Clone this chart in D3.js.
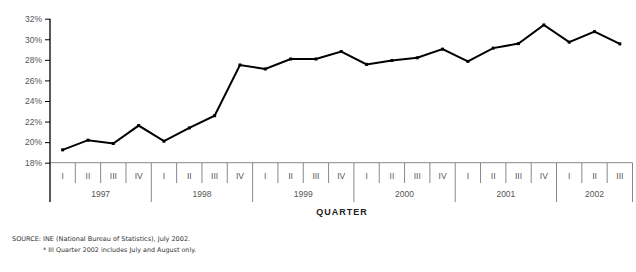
<!DOCTYPE html>
<html>
<head>
<meta charset="utf-8">
<script src="https://cdn.jsdelivr.net/npm/d3@7"></script>
<style>
  body { margin: 0; background: #fff; }
  svg { display: block; font-family: Arial, "Liberation Sans", sans-serif; opacity: 0.999; }
</style>
</head>
<body>
<svg id="chart" width="636" height="272"></svg>
<script>
// quarters from 1997 I to 2002 III
const years = ["1997", "1998", "1999", "2000", "2001", "2002"];
const quarterNames = ["I", "II", "III", "IV"];
const rates = [
    19.25, 20.19, 19.87, 21.61,
    20.09, 21.38, 22.57, 27.50,
    27.11, 28.08, 28.08, 28.81,
    27.56, 27.94, 28.20, 29.04,
    27.85, 29.14, 29.58, 31.39,
    29.72, 30.74, 29.55
];
const yTicks = [18, 20, 22, 24, 26, 28, 30, 32];

const data = rates.map(function (v, i) {
    return {
        key: i,
        year: years[Math.floor(i / 4)],
        quarter: quarterNames[i % 4],
        value: v
    };
});

const svg = d3.select("#chart");
const plotLeft = 50, plotRight = 632.5, plotTop = 18.7, plotBottom = 162.7;

const xScale = d3.scaleBand()
    .domain(data.map(function (d) { return d.key; }))
    .range([plotLeft, plotRight]);

const yScale = d3.scaleLinear()
    .domain([18, 32])
    .range([plotBottom, plotTop]);

// y axis
const yAxis = d3.axisLeft(yScale)
    .tickValues(yTicks)
    .tickSize(5)
    .tickPadding(3)
    .tickFormat(function (d) { return d + "%"; });

const yG = svg.append("g")
    .attr("transform", "translate(" + plotLeft + ",0)")
    .call(yAxis);
yG.select(".domain").remove();
yG.selectAll(".tick line").attr("stroke", "#000");
yG.selectAll(".tick text").attr("font-size", 8.5).attr("fill", "#555")
    .attr("font-family", "Arial, 'Liberation Sans', sans-serif");

// category table below plot
const cat = svg.append("g");
const rowQ = 183, rowY = 202;

cat.append("line")
    .attr("x1", plotLeft).attr("x2", plotRight)
    .attr("y1", plotBottom).attr("y2", plotBottom)
    .attr("stroke", "#888").attr("stroke-width", 1);

// quarter dividers
cat.selectAll(".qdiv")
    .data(data.filter(function (d) { return d.quarter !== "I"; }))
    .enter().append("line")
    .attr("x1", function (d) { return xScale(d.key); })
    .attr("x2", function (d) { return xScale(d.key); })
    .attr("y1", plotBottom).attr("y2", rowQ)
    .attr("stroke", "#888");

// year dividers
const yearStarts = data.filter(function (d) { return d.quarter === "I" && d.key > 0; })
    .map(function (d) { return xScale(d.key); });
yearStarts.push(plotRight);
cat.selectAll(".ydiv")
    .data(yearStarts)
    .enter().append("line")
    .attr("x1", function (d) { return d; })
    .attr("x2", function (d) { return d; })
    .attr("y1", plotBottom).attr("y2", rowY)
    .attr("stroke", "#888");

// quarter labels
cat.selectAll(".qlab")
    .data(data)
    .enter().append("text")
    .attr("x", function (d) { return xScale(d.key) + xScale.bandwidth() / 2; })
    .attr("y", 179)
    .attr("text-anchor", "middle")
    .attr("font-size", 8.5)
    .attr("fill", "#555")
    .text(function (d) { return d.quarter; });

// year labels
cat.selectAll(".ylab")
    .data(years)
    .enter().append("text")
    .attr("x", function (yr) {
        const q = data.filter(function (d) { return d.year === yr; });
        return (xScale(q[0].key) + xScale(q[q.length - 1].key) + xScale.bandwidth()) / 2;
    })
    .attr("y", 197)
    .attr("text-anchor", "middle")
    .attr("font-size", 8.5)
    .attr("fill", "#555")
    .text(function (d) { return d; });

// y axis line (through the category table)
svg.append("line")
    .attr("x1", plotLeft).attr("x2", plotLeft)
    .attr("y1", plotTop).attr("y2", rowY)
    .attr("stroke", "#000").attr("stroke-width", 1.3);

// series line
const line = d3.line()
    .x(function (d) { return xScale(d.key) + xScale.bandwidth() / 2; })
    .y(function (d) { return yScale(d.value); });

svg.append("path")
    .datum(data)
    .attr("fill", "none")
    .attr("stroke", "#000")
    .attr("stroke-width", 2)
    .attr("d", line);

svg.selectAll(".pt")
    .data(data)
    .enter().append("rect")
    .attr("x", function (d) { return xScale(d.key) + xScale.bandwidth() / 2 - 1.5; })
    .attr("y", function (d) { return yScale(d.value) - 1.5; })
    .attr("width", 3).attr("height", 3)
    .attr("fill", "#000");

// axis title
svg.append("text")
    .attr("x", 342)
    .attr("y", 215)
    .attr("text-anchor", "middle")
    .attr("font-size", 9)
    .attr("font-weight", "bold")
    .attr("letter-spacing", 1)
    .attr("fill", "#222")
    .text("QUARTER");

// notes
svg.append("text")
    .attr("x", 12).attr("y", 241)
    .attr("font-size", 6.5)
    .attr("font-family", "Verdana, 'DejaVu Sans', sans-serif")
    .attr("fill", "#333")
    .text("SOURCE: INE (National Bureau of Statistics), July 2002.");

svg.append("text")
    .attr("x", 43).attr("y", 252)
    .attr("font-size", 6.4)
    .attr("font-family", "Verdana, 'DejaVu Sans', sans-serif")
    .attr("fill", "#333")
    .text("* III Quarter 2002 includes July and August only.");
</script>
</body>
</html>
